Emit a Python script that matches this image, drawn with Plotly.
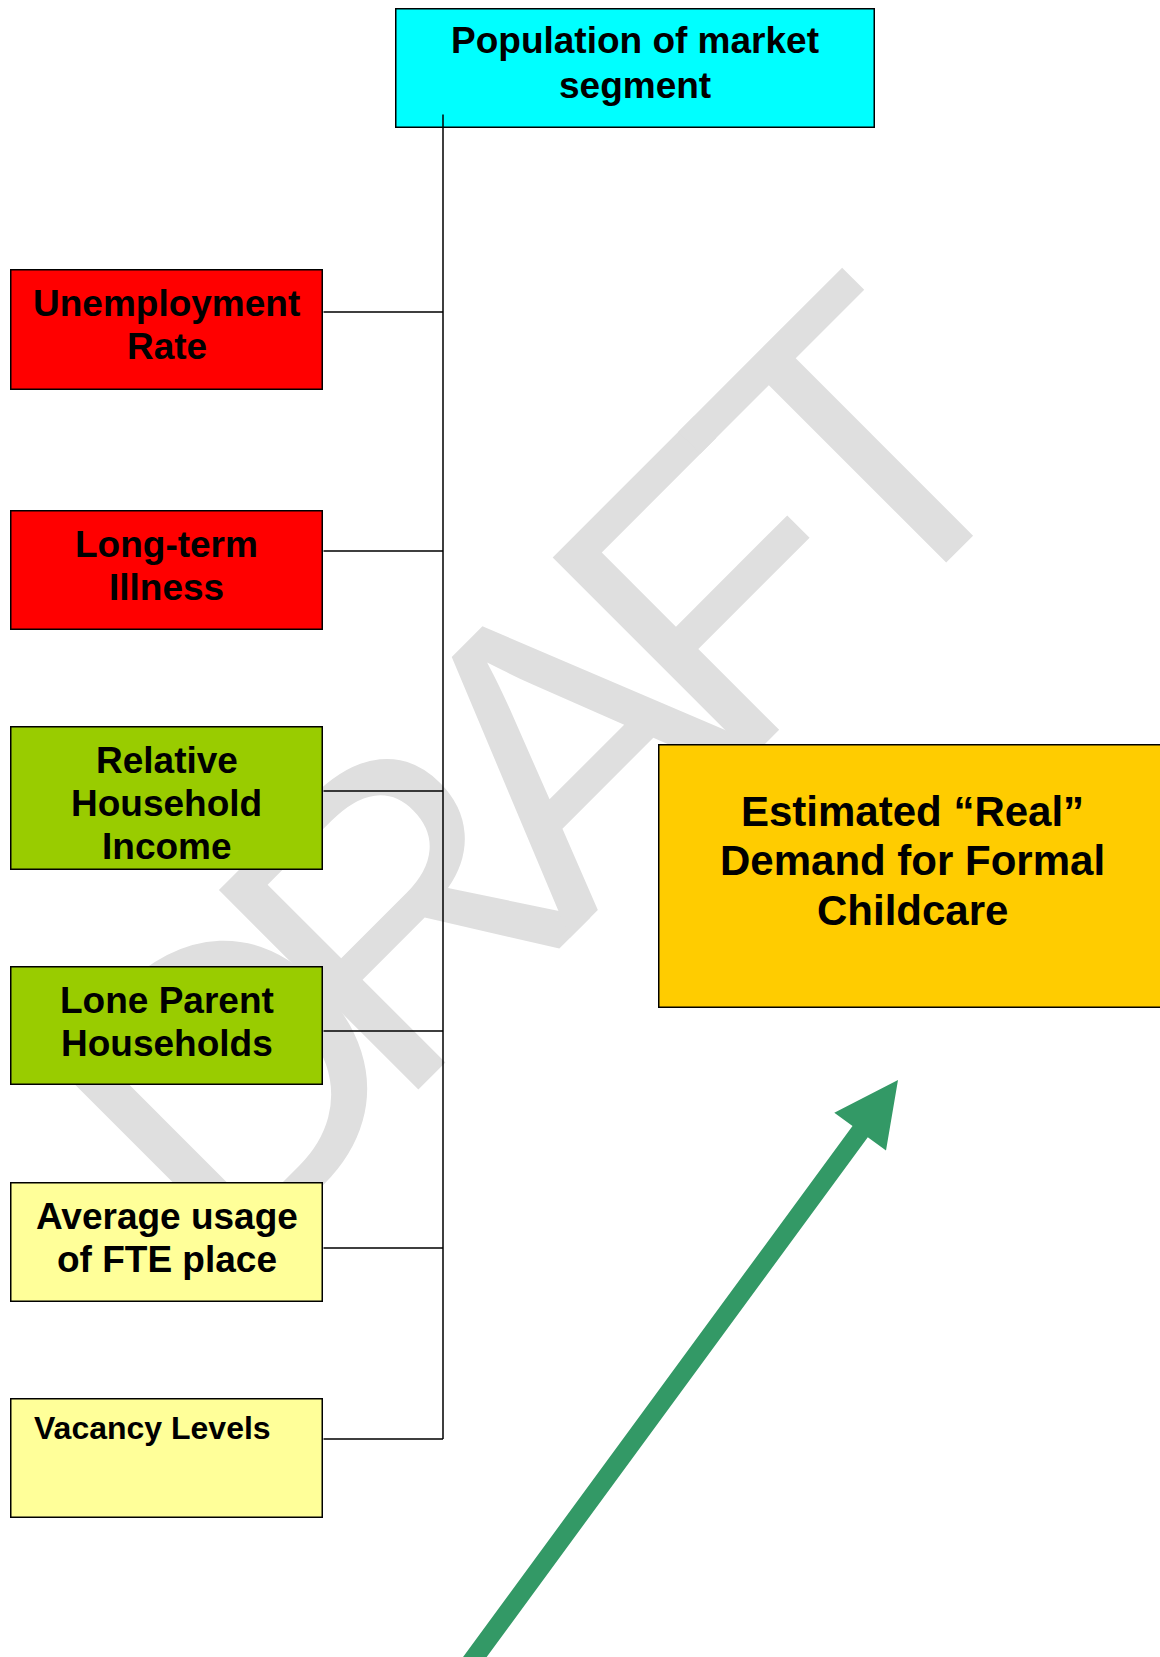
import math
import plotly.graph_objects as go

W, H = 1160, 1657

# ---- diagram content -------------------------------------------------------
top_label = ["Population of market", "segment"]
factor_labels = [
    ["Unemployment", "Rate"],
    ["Long-term", "Illness"],
    ["Relative", "Household", "Income"],
    ["Lone Parent", "Households"],
    ["Average usage", "of FTE place"],
    ["Vacancy Levels"],
]
factor_colors = ["#FF0000", "#FF0000", "#99CC00", "#99CC00", "#FFFF99", "#FFFF99"]
result_label = ["Estimated “Real”", "Demand for Formal", "Childcare"]
watermark_letters = ["D", "R", "A", "F", "T"]

# ---- geometry (pixels, origin top-left) ------------------------------------
top_box = (395, 8, 875, 128)
factor_x = (10, 323)
factor_y = [(269, 390), (510, 630), (726, 870), (966, 1085), (1182, 1302), (1398, 1518)]
factor_link_y = [312, 551, 791, 1031, 1248, 1439]
trunk_x, trunk_top = 443, 114
result_box = (658, 744, 1166, 1008)
arrow_tail, arrow_tip = (469, 1665), (898, 1080)

# watermark runs along a 45deg baseline; letter centres measured along it
wm_origin = (765.5, 765.5)          # point on the baseline
wm_letter_u = [-600, -360, -124, 88, 290]
wm_mid_height = 158
wm_size = 410

FONT = "Liberation Sans, Arial, sans-serif"

fig = go.Figure()


def add_box(x0, y0, x1, y1, color, bw=1.5):
    fig.add_annotation(x=(x0 + x1) / 2, y=(y0 + y1) / 2, xref="x", yref="y",
                       text=" ", showarrow=False, xanchor="center", yanchor="middle",
                       width=x1 - x0 - 2 * bw, height=y1 - y0 - 2 * bw,
                       bgcolor=color, bordercolor="black", borderwidth=bw, borderpad=0)


def add_line(x0, y0, x1, y1):
    fig.add_annotation(x=x1, y=y1, ax=x0, ay=y0, xref="x", yref="y", axref="x", ayref="y",
                       text="", showarrow=True, arrowhead=0, arrowwidth=1.5,
                       arrowcolor="black", standoff=0, startstandoff=0, borderpad=0)


def add_text(lines, cx, first_y, gap, size, align="center"):
    for i, t in enumerate(lines):
        fig.add_annotation(x=cx, y=first_y + i * gap, xref="x", yref="y", text=t,
                           showarrow=False, xanchor=align, yanchor="middle",
                           font=dict(family=FONT, size=size, color="black", weight="bold"))


# watermark letters (drawn first so the boxes sit on top of them)
r2 = math.sqrt(0.5)
for ch, u in zip(watermark_letters, wm_letter_u):
    cx = wm_origin[0] + u * r2 - wm_mid_height * r2
    cy = wm_origin[1] - u * r2 - wm_mid_height * r2
    fig.add_annotation(x=cx, y=cy, xref="x", yref="y", text=ch, showarrow=False,
                       textangle=-45, xanchor="center", yanchor="middle",
                       font=dict(family=FONT, size=wm_size, color="#DFDFDF"))

# green arrow
dx, dy = arrow_tip[0] - arrow_tail[0], arrow_tip[1] - arrow_tail[1]
L = math.hypot(dx, dy)
ux, uy = dx / L, dy / L
px, py = -uy, ux
shaft_w, head_w, head_l = 19, 64, 64
bx, by = arrow_tip[0] - ux * head_l, arrow_tip[1] - uy * head_l
pts = [
    (arrow_tail[0] + px * shaft_w / 2, arrow_tail[1] + py * shaft_w / 2),
    (bx + px * shaft_w / 2, by + py * shaft_w / 2),
    (bx + px * head_w / 2, by + py * head_w / 2),
    arrow_tip,
    (bx - px * head_w / 2, by - py * head_w / 2),
    (bx - px * shaft_w / 2, by - py * shaft_w / 2),
    (arrow_tail[0] - px * shaft_w / 2, arrow_tail[1] - py * shaft_w / 2),
]
path = "M " + " L ".join(f"{x:.1f},{y:.1f}" for x, y in pts) + " Z"
fig.add_shape(type="path", path=path, xref="x", yref="y",
              fillcolor="#339966", line=dict(width=0), layer="above")

# boxes
add_box(*top_box, "#00FFFF")
for (y0, y1), c in zip(factor_y, factor_colors):
    add_box(factor_x[0], y0, factor_x[1], y1, c)
add_box(*result_box, "#FFCC00")

# connectors
add_line(trunk_x, trunk_top, trunk_x, factor_link_y[-1])
for yl in factor_link_y:
    add_line(factor_x[1], yl, trunk_x, yl)

# labels
add_text(top_label, (top_box[0] + top_box[2]) / 2, top_box[1] + 32, 45, 37)
for i, ((y0, y1), lab) in enumerate(zip(factor_y, factor_labels)):
    if i == len(factor_labels) - 1:
        add_text(lab, factor_x[0] + 22, y0 + 30, 43, 32, align="left")
    else:
        add_text(lab, (factor_x[0] + factor_x[1]) / 2, y0 + 34, 43, 37)
add_text(result_label, (result_box[0] + result_box[2]) / 2, result_box[1] + 67, 49.5, 42)

fig.update_layout(
    width=W, height=H,
    margin=dict(l=0, r=0, t=0, b=0),
    paper_bgcolor="white", plot_bgcolor="white",
    showlegend=False,
    xaxis=dict(range=[0, W], visible=False, fixedrange=True),
    yaxis=dict(range=[H, 0], visible=False, fixedrange=True),
)

fig.write_html("out.html", config={"displayModeBar": False},
               post_script="document.body.style.margin='0';document.body.style.overflow='hidden';")
